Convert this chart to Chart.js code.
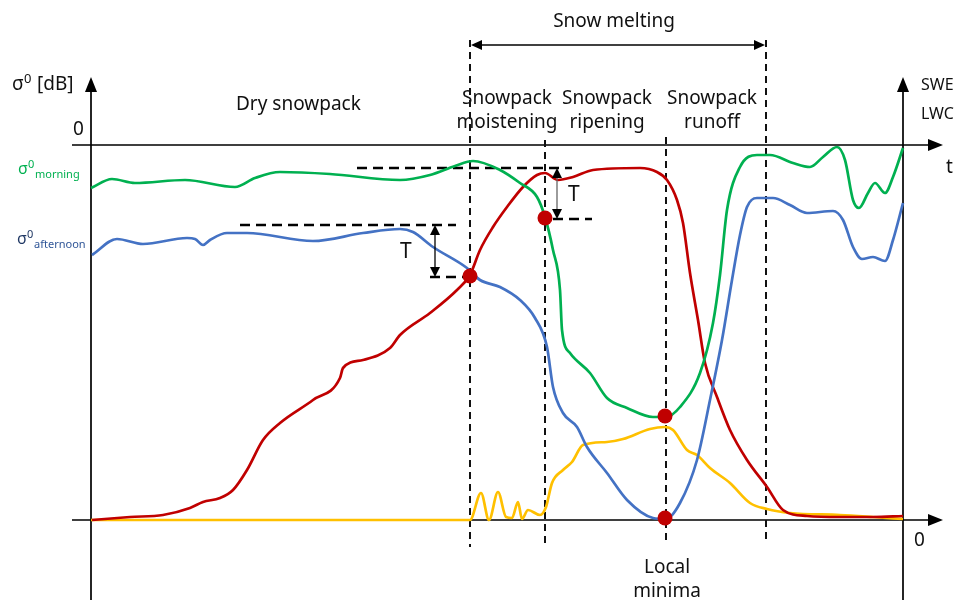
<!DOCTYPE html>
<html>
<head>
  <title>Snowpack backscatter</title>
  <script src="https://cdn.jsdelivr.net/npm/chart.js"></script>
</head>
<body style="margin:0;background:#fff;">
  <canvas id="chart" width="959" height="600"></canvas>

  <script>
    // schematic units: x = time, y = height above the bottom (SWE/LWC = 0) axis
    const greenX = [91, 112, 135, 185, 235, 255, 280, 330, 400, 430, 455, 473, 500, 520, 537, 545, 553, 560, 562, 570, 590, 607, 627, 653, 666, 680, 700, 713, 720, 727, 740, 757, 770, 793, 810, 823, 837, 845, 853, 859, 868, 875, 885, 893, 903];
    const greenY = [332, 341, 337, 340, 333, 342, 348, 346, 340, 345, 354, 359, 350, 337, 323, 303, 270, 230, 190, 167, 147, 122, 112, 103, 103, 113, 147, 197, 245, 310, 353, 365, 365, 357, 353, 363, 373, 360, 320, 312, 327, 337, 327, 343, 372];

    const blueX = [92, 117, 143, 187, 195, 203, 210, 227, 247, 313, 363, 400, 413, 433, 467, 480, 500, 520, 535, 547, 553, 563, 577, 587, 607, 627, 653, 666, 680, 697, 710, 722, 732, 740, 747, 757, 773, 790, 807, 833, 843, 853, 862, 873, 885, 893, 903];
    const blueY = [265, 281, 276, 282, 281, 275, 280, 287, 287, 279, 287, 291, 288, 273, 252, 240, 233, 220, 202, 173, 133, 107, 93, 73, 47, 20, 2, 1, 17, 60, 120, 180, 240, 285, 313, 322, 322, 315, 307, 309, 300, 273, 261, 263, 259, 280, 317];

    const redX = [92, 130, 163, 190, 203, 220, 233, 247, 263, 280, 313, 340, 343, 363, 390, 400, 430, 457, 470, 480, 493, 507, 523, 537, 545, 558, 573, 593, 640, 657, 667, 677, 683, 690, 698, 705, 717, 730, 747, 767, 783, 807, 840, 873, 903];
    const redY = [0, 3, 5, 12, 18, 22, 30, 50, 80, 97, 120, 142, 152, 160, 172, 185, 207, 230, 245, 270, 293, 313, 333, 345, 347, 340, 343, 350, 352, 348, 340, 320, 297, 247, 200, 157, 123, 90, 60, 33, 10, 4, 3, 3, 4];

    const yellowX = [91, 470, 481, 489, 498, 506, 512, 518, 522, 528, 540, 546, 552, 563, 572, 583, 607, 623, 650, 665, 673, 687, 697, 710, 730, 750, 767, 790, 840, 873, 903];
    const yellowY = [0, 0, 27, 0, 28, 3, 2, 18, 1, 10, 5, 13, 37, 50, 58, 75, 78, 81, 91, 93, 90, 70, 65, 52, 37, 17, 11, 7, 5, 3, 1];

    const minimaX = [470, 545, 665, 665];
    const minimaY = [244, 302, 104, 2];

    const phaseX = [470, 545, 666, 766];
    const phaseTop = [480, 380, 383, 480];
    const phaseBottom = [-27, -25, -20, -21];

    const sigmaZero = 375;   // the sigma0 = 0 line

    function pts(xs, ys) {
      return xs.map((x, i) => ({ x: x, y: ys[i] }));
    }

    function arrowHead(ctx, x, y, dir, len, half) {
      // dir: 'up', 'down', 'left', 'right'
      ctx.beginPath();
      if (dir === "up") { ctx.moveTo(x, y); ctx.lineTo(x - half, y + len); ctx.lineTo(x + half, y + len); }
      if (dir === "down") { ctx.moveTo(x, y); ctx.lineTo(x - half, y - len); ctx.lineTo(x + half, y - len); }
      if (dir === "right") { ctx.moveTo(x, y); ctx.lineTo(x - len, y - half); ctx.lineTo(x - len, y + half); }
      if (dir === "left") { ctx.moveTo(x, y); ctx.lineTo(x + len, y - half); ctx.lineTo(x + len, y + half); }
      ctx.closePath();
      ctx.fill();
    }

    const frame = {
      id: "frame",
      beforeDatasetsDraw(chart) {
        const ctx = chart.ctx;
        const X = v => chart.scales.x.getPixelForValue(v);
        const Y = v => chart.scales.y.getPixelForValue(v);
        ctx.save();
        ctx.strokeStyle = "#000";
        ctx.fillStyle = "#000";

        // axes
        ctx.lineWidth = 1.7;
        ctx.beginPath();
        ctx.moveTo(X(91), Y(-80)); ctx.lineTo(X(91), Y(430));
        ctx.moveTo(X(903), Y(-80)); ctx.lineTo(X(903), Y(430));
        ctx.moveTo(X(72), Y(sigmaZero)); ctx.lineTo(X(932), Y(sigmaZero));
        ctx.moveTo(X(72), Y(0)); ctx.lineTo(X(932), Y(0));
        ctx.stroke();
        arrowHead(ctx, X(91), Y(443), "up", 15, 6);
        arrowHead(ctx, X(903), Y(443), "up", 15, 6);
        arrowHead(ctx, X(943), Y(sigmaZero), "right", 15, 6);
        arrowHead(ctx, X(943), Y(0), "right", 15, 6);

        // phase boundaries
        ctx.strokeStyle = "#111";
        ctx.lineWidth = 2;
        ctx.setLineDash([7, 5]);
        ctx.beginPath();
        phaseX.forEach((x, i) => {
          ctx.moveTo(X(x), Y(phaseTop[i]));
          ctx.lineTo(X(x), Y(phaseBottom[i]));
        });
        ctx.stroke();

        // threshold levels
        ctx.strokeStyle = "#000";
        ctx.lineWidth = 2.6;
        ctx.setLineDash([10, 6]);
        ctx.beginPath();
        ctx.moveTo(X(357), Y(352)); ctx.lineTo(X(572), Y(352));
        ctx.moveTo(X(240), Y(295)); ctx.lineTo(X(456), Y(295));
        ctx.moveTo(X(430), Y(243)); ctx.lineTo(X(470), Y(243));
        ctx.moveTo(X(553), Y(301)); ctx.lineTo(X(592), Y(301));
        ctx.stroke();
        ctx.setLineDash([]);
        ctx.restore();
      },
      afterDatasetsDraw(chart) {
        const ctx = chart.ctx;
        const X = v => chart.scales.x.getPixelForValue(v);
        const Y = v => chart.scales.y.getPixelForValue(v);
        ctx.save();
        ctx.fillStyle = "#000";
        ctx.strokeStyle = "#000";

        // snow melting span
        ctx.lineWidth = 1.7;
        ctx.beginPath();
        ctx.moveTo(X(475), Y(475)); ctx.lineTo(X(761), Y(475));
        ctx.stroke();
        arrowHead(ctx, X(471), Y(475), "left", 11, 5);
        arrowHead(ctx, X(765), Y(475), "right", 11, 5);

        // T arrows
        ctx.lineWidth = 1.3;
        ctx.beginPath();
        ctx.moveTo(X(435), Y(290)); ctx.lineTo(X(435), Y(248));
        ctx.stroke();
        arrowHead(ctx, X(435), Y(295), "up", 10, 5);
        arrowHead(ctx, X(435), Y(243), "down", 10, 5);
        ctx.strokeStyle = "#666";
        ctx.beginPath();
        ctx.moveTo(X(557), Y(347)); ctx.lineTo(X(557), Y(306));
        ctx.stroke();
        arrowHead(ctx, X(557), Y(352), "up", 10, 5);
        arrowHead(ctx, X(557), Y(301), "down", 10, 5);

        // labels
        ctx.fillStyle = "#111";
        ctx.textBaseline = "alphabetic";
        ctx.font = "19px 'Noto Sans'";
        ctx.textAlign = "center";
        ctx.fillText("Snow melting", X(614), Y(493));
        ctx.fillText("Snowpack", X(507), Y(416));
        ctx.fillText("moistening", X(507), Y(392));
        ctx.fillText("Snowpack", X(607), Y(416));
        ctx.fillText("ripening", X(607), Y(392));
        ctx.fillText("Snowpack", X(712), Y(416));
        ctx.fillText("runoff", X(712), Y(392));
        ctx.fillText("Local", X(667), Y(-53));
        ctx.fillText("minima", X(667), Y(-77));
        ctx.textAlign = "left";
        ctx.fillText("Dry snowpack", X(236), Y(410));
        ctx.font = "21px 'Noto Sans'";
        ctx.fillText("T", X(400), Y(262));
        ctx.fillText("T", X(568), Y(319));
        ctx.font = "19px 'Noto Sans'";
        ctx.fillText("0", X(73), Y(385));
        ctx.fillText("0", X(914), Y(-26));
        ctx.fillText("t", X(946), Y(347));
        ctx.font = "16px 'Noto Sans'";
        ctx.fillText("SWE", X(921), Y(430));
        ctx.fillText("LWC", X(921), Y(401));

        ctx.font = "19px 'Noto Sans'";
        ctx.fillText("\u03c3", X(12), Y(430));
        ctx.font = "13px 'Noto Sans'";
        ctx.fillText("0", X(24), Y(437));
        ctx.font = "19px 'Noto Sans'";
        ctx.fillText("[dB]", X(37), Y(430));

        ctx.fillStyle = "#00b050";
        ctx.font = "16px 'Noto Sans'";
        ctx.fillText("\u03c3", X(18), Y(346));
        ctx.font = "11px 'Noto Sans'";
        ctx.fillText("0", X(28), Y(352));
        ctx.fillText("morning", X(35), Y(342));

        ctx.fillStyle = "#203864";
        ctx.font = "16px 'Noto Sans'";
        ctx.fillText("\u03c3", X(17), Y(276));
        ctx.font = "11px 'Noto Sans'";
        ctx.fillText("0", X(27), Y(282));
        ctx.fillStyle = "#2f5597";
        ctx.fillText("afternoon", X(34), Y(272));
        ctx.restore();
      }
    };

    function curve(data, color) {
      return {
        data: data,
        borderColor: color,
        borderWidth: 2.7,
        pointRadius: 0,
        fill: false,
        cubicInterpolationMode: "monotone"
      };
    }

    // Chart.js paints dataset 0 last, so the dots come first
    new Chart(document.getElementById("chart"), {
      type: "line",
      data: {
        datasets: [
          {
            data: pts(minimaX, minimaY),
            showLine: false,
            pointRadius: 7.5,
            pointBackgroundColor: "#c00000",
            pointBorderColor: "#c00000",
            pointBorderWidth: 0
          },
          curve(pts(greenX, greenY), "#00b050"),
          curve(pts(blueX, blueY), "#4472c4"),
          curve(pts(redX, redY), "#c00000"),
          curve(pts(yellowX, yellowY), "#ffc000")
        ]
      },
      options: {
        responsive: false,
        animation: false,
        devicePixelRatio: 1,
        layout: { padding: 0, autoPadding: false },
        plugins: { legend: { display: false }, tooltip: { enabled: false } },
        scales: {
          x: { type: "linear", min: 0, max: 959, display: false },
          y: { type: "linear", min: -80, max: 520, display: false }
        }
      },
      plugins: [frame]
    });
  </script>
</body>
</html>
